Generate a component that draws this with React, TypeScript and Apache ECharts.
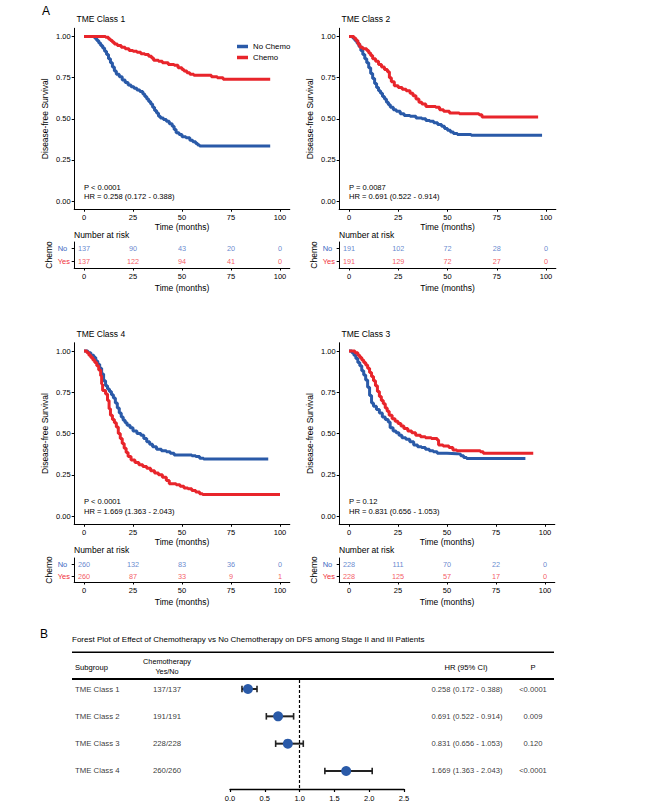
import React, { useEffect, useRef } from 'react';
import * as echarts from 'echarts';

const W = 654;
const H = 809;
const FONT = "'Liberation Sans', Arial, Helvetica, sans-serif";
const TXT = '#000000';
const BLUE = '#2A5AA8';
const RED = '#E8252B';
const RISK_BLUE = '#3C69C2';
const RISK_RED = '#F0303A';

// ---------- KM panel data ----------
const panelTitles = ['TME Class 1', 'TME Class 2', 'TME Class 4', 'TME Class 3'];
const pTexts = ['P < 0.0001', 'P = 0.0087', 'P < 0.0001', 'P = 0.12'];
const hrTexts = [
  'HR = 0.258 (0.172 - 0.388)',
  'HR = 0.691 (0.522 - 0.914)',
  'HR = 1.669 (1.363 - 2.043)',
  'HR = 0.831 (0.656 - 1.053)',
];
const timeTicks = [0, 25, 50, 75, 100];
const survTicks = [0, 0.25, 0.5, 0.75, 1];
const riskGroups = ['Yes', 'No'];

const class1NoChemo = [[0,1],[5.5,0.99],[6.5,0.975],[7.5,0.96],[8.5,0.945],[9.5,0.93],[10.5,0.91],[11.5,0.89],[12.5,0.865],[13.5,0.84],[14.5,0.815],[15.5,0.79],[16.5,0.77],[18,0.755],[19.5,0.735],[21,0.72],[22.5,0.705],[24,0.695],[25.5,0.685],[27,0.675],[28.5,0.665],[30,0.65],[31,0.635],[32,0.62],[33,0.605],[34,0.59],[35,0.57],[36,0.55],[37,0.535],[38,0.515],[39,0.505],[40.5,0.495],[42,0.485],[43.5,0.47],[45,0.455],[46,0.435],[47,0.415],[48.5,0.405],[50,0.39],[52,0.385],[54,0.37],[55.5,0.36],[57,0.35],[58,0.34],[59,0.335],[95,0.335]];
const class1Chemo = [[0,1],[11,0.995],[12.5,0.985],[13.5,0.975],[14.5,0.965],[15.5,0.955],[17,0.945],[19,0.935],[21,0.925],[23,0.915],[25,0.91],[27,0.905],[29,0.895],[31,0.89],[33,0.88],[34.5,0.87],[35.5,0.855],[38,0.85],[40,0.84],[43,0.83],[46,0.825],[48,0.81],[50,0.8],[51,0.79],[52.5,0.78],[54,0.77],[56,0.765],[65,0.755],[68,0.75],[71,0.74],[95,0.74]];
const class2NoChemo = [[0,1],[2,0.99],[3,0.975],[4,0.96],[5,0.94],[6,0.915],[7,0.89],[8,0.865],[9,0.84],[10,0.81],[11,0.775],[12,0.745],[13,0.715],[14,0.69],[15,0.67],[16,0.655],[17,0.635],[18,0.62],[19,0.6],[20,0.585],[21,0.57],[22.5,0.555],[24,0.545],[26,0.53],[28,0.52],[31,0.515],[34,0.505],[37,0.5],[39,0.49],[41,0.485],[43,0.475],[45,0.465],[47,0.455],[48.5,0.44],[50,0.43],[51.5,0.42],[53,0.41],[55,0.405],[62,0.4],[98,0.4]];
const class2Chemo = [[0,1],[2.5,0.99],[3.5,0.975],[4.5,0.955],[5.5,0.935],[7,0.925],[9,0.915],[10,0.9],[11,0.885],[12,0.865],[13.5,0.85],[15,0.83],[16.5,0.815],[18,0.8],[19.5,0.785],[20.5,0.75],[21.5,0.725],[23,0.7],[25,0.69],[27,0.68],[29,0.67],[31,0.655],[32.5,0.64],[34,0.62],[35.5,0.6],[37,0.59],[39,0.575],[44,0.57],[46,0.555],[48,0.545],[51,0.535],[56,0.53],[66,0.525],[67.5,0.51],[96,0.51]];
const class4NoChemo = [[0,1],[2,0.99],[3.5,0.975],[5,0.96],[6,0.94],[7,0.92],[8,0.895],[9,0.86],[10,0.82],[11,0.79],[12,0.77],[13,0.755],[14,0.735],[15,0.715],[16,0.685],[17,0.655],[18,0.625],[19,0.6],[20,0.58],[21,0.565],[22,0.55],[23.5,0.535],[25,0.515],[27,0.5],[29,0.49],[30.5,0.47],[32,0.45],[33.5,0.435],[35,0.42],[37,0.405],[39.5,0.395],[42,0.39],[44,0.38],[46,0.37],[55,0.365],[57,0.36],[59,0.35],[61,0.345],[94,0.345]];
const class4Chemo = [[0,1],[1.5,0.99],[2.5,0.975],[3.5,0.96],[4.5,0.945],[5.5,0.93],[6.5,0.91],[7.5,0.885],[8.5,0.85],[9,0.8],[9.5,0.76],[11,0.74],[12,0.7],[12.8,0.65],[13.5,0.61],[14.5,0.585],[15.5,0.565],[16.5,0.54],[17.5,0.5],[18.5,0.47],[19.5,0.44],[20.5,0.41],[21.5,0.385],[22.5,0.36],[24,0.34],[26,0.325],[28,0.31],[30,0.3],[32,0.29],[34,0.275],[36,0.26],[38,0.25],[40,0.235],[42,0.215],[43.5,0.195],[47,0.19],[49,0.18],[51,0.17],[53,0.165],[55,0.155],[57,0.145],[59,0.135],[60.5,0.13],[100,0.13]];
const class3NoChemo = [[0,1],[1.5,0.99],[2.5,0.975],[3.5,0.955],[4.5,0.93],[5.5,0.91],[6.5,0.88],[7.5,0.855],[8.5,0.825],[9.5,0.78],[10.5,0.73],[11.5,0.685],[12.5,0.665],[14,0.645],[15.5,0.625],[17,0.6],[18.5,0.585],[20,0.57],[21,0.535],[22.5,0.515],[24,0.505],[25.5,0.49],[27,0.475],[29,0.465],[31,0.45],[33,0.43],[35,0.42],[37,0.415],[39,0.405],[41,0.395],[43,0.39],[45,0.38],[50,0.378],[55,0.375],[57,0.365],[58.5,0.355],[60,0.348],[90,0.348]];
const class3Chemo = [[0,1],[3,0.99],[4.5,0.975],[5.5,0.96],[6.5,0.945],[7.5,0.93],[8.5,0.915],[9.5,0.895],[10.5,0.87],[11.5,0.845],[12.5,0.82],[13.5,0.79],[14.5,0.755],[15.5,0.725],[16.5,0.7],[17.5,0.68],[18.5,0.655],[19.5,0.635],[20.5,0.61],[22,0.59],[23.5,0.575],[25,0.56],[26.5,0.545],[28,0.53],[30,0.515],[32,0.505],[34,0.49],[36.5,0.48],[39,0.475],[42,0.47],[45,0.46],[45.7,0.43],[48,0.425],[51,0.415],[53,0.4],[55,0.395],[67,0.39],[68.5,0.38],[94,0.38]];

const class1RiskNo = [137, 90, 43, 20, 0];
const class1RiskYes = [137, 122, 94, 41, 0];
const class2RiskNo = [191, 102, 72, 28, 0];
const class2RiskYes = [191, 129, 72, 27, 0];
const class4RiskNo = [260, 132, 83, 36, 0];
const class4RiskYes = [260, 87, 33, 9, 1];
const class3RiskNo = [228, 111, 70, 22, 0];
const class3RiskYes = [228, 125, 57, 17, 0];

const kmNo = [class1NoChemo, class2NoChemo, class4NoChemo, class3NoChemo];
const kmYes = [class1Chemo, class2Chemo, class4Chemo, class3Chemo];
const riskNo = [class1RiskNo, class2RiskNo, class4RiskNo, class3RiskNo];
const riskYes = [class1RiskYes, class2RiskYes, class4RiskYes, class3RiskYes];

// ---------- Forest data ----------
const forestTitle = 'Forest Plot of Effect of Chemotherapy vs No Chemotherapy on DFS among Stage II and III Patients';
const subgroups = ['TME Class 1', 'TME Class 2', 'TME Class 3', 'TME Class 4'];
const counts = ['137/137', '191/191', '228/228', '260/260'];
const hrValues = [0.258, 0.691, 0.831, 1.669];
const hrLower = [0.172, 0.522, 0.656, 1.363];
const hrUpper = [0.388, 0.914, 1.053, 2.043];
const pValues = ['<0.0001', '0.009', '0.120', '<0.0001'];

// ---------- Layout ----------
const panels = [
  { x0: 84, x100: 280, y1: 36.5, y0: 201, riskTop: 242, riskH: 26, riskGap: 15 },
  { x0: 349, x100: 546, y1: 36.5, y0: 201, riskTop: 242, riskH: 26, riskGap: 15 },
  { x0: 84, x100: 280, y1: 351, y0: 516, riskTop: 558, riskH: 24, riskGap: 15 },
  { x0: 349, x100: 545, y1: 351, y0: 516, riskTop: 558, riskH: 24, riskGap: 15 },
];
const forestRow1 = 689;
const forestStep = 27.33;
const forestTop = 680;
const forestBottom = 789;

function txt(text: string, x: number, y: number, size: number, align = 'left', color = TXT) {
  return {
    type: 'text',
    x,
    y,
    silent: true,
    style: {
      text,
      fill: color,
      fontSize: size,
      fontFamily: FONT,
      textAlign: align,
      align,
      textVerticalAlign: 'middle',
      verticalAlign: 'middle',
    },
  };
}

function hline(x1: number, x2: number, y: number, w: number) {
  return {
    type: 'line',
    silent: true,
    shape: { x1, y1: y, x2, y2: y },
    style: { stroke: '#000', lineWidth: w },
  };
}

function buildOption() {
  const grid: any[] = [];
  const xAxis: any[] = [];
  const yAxis: any[] = [];
  const series: any[] = [];
  const graphic: any[] = [];

  const axisLine = { show: true, onZero: false, lineStyle: { color: '#000', width: 1 } };
  const tickStyle = { color: '#000', width: 1 };
  const nameStyle = { fontSize: 8.5, color: TXT, fontFamily: FONT };

  panels.forEach((p, i) => {
    const u = (p.x100 - p.x0) / 100;
    const left = p.x0 - 5 * u;
    const width = 110 * u;
    const v = p.y0 - p.y1;
    const top = p.y1 - 0.05 * v;
    const height = 1.1 * v;

    // KM grid
    const g = grid.length;
    grid.push({ left, top, width, height });
    xAxis.push({
      gridIndex: g, type: 'value', min: -5, max: 105,
      axisLine, splitLine: { show: false },
      axisTick: { show: true, customValues: timeTicks, length: 2.5, lineStyle: tickStyle },
      axisLabel: { customValues: timeTicks, fontSize: 7.5, color: TXT, margin: 4, fontFamily: FONT },
      name: 'Time (months)', nameLocation: 'middle', nameGap: 12,
      nameTextStyle: nameStyle,
    });
    yAxis.push({
      gridIndex: g, type: 'value', min: -0.05, max: 1.05,
      axisLine, splitLine: { show: false },
      axisTick: { show: true, customValues: survTicks, length: 2.5, lineStyle: tickStyle },
      axisLabel: { customValues: survTicks, fontSize: 7.5, color: TXT, margin: 3.5, fontFamily: FONT, formatter: (val: number) => val.toFixed(2) },
      name: 'Disease-free Survival', nameLocation: 'middle', nameRotate: 90, nameGap: 25,
      nameTextStyle: nameStyle,
    });
    series.push({
      name: 'No Chemo', type: 'line', step: 'end', xAxisIndex: g, yAxisIndex: g,
      data: kmNo[i], showSymbol: false, symbol: 'none',
      lineStyle: { color: BLUE, width: 3 }, itemStyle: { color: BLUE }, z: 3,
    });
    series.push({
      name: 'Chemo', type: 'line', step: 'end', xAxisIndex: g, yAxisIndex: g,
      data: kmYes[i], showSymbol: false, symbol: 'none',
      lineStyle: { color: RED, width: 3 }, itemStyle: { color: RED }, z: 4,
    });

    // Risk table grid
    const r = grid.length;
    grid.push({ left, top: p.riskTop, width, height: p.riskH });
    xAxis.push({
      gridIndex: r, type: 'value', min: -5, max: 105,
      axisLine, splitLine: { show: false },
      axisTick: { show: true, customValues: timeTicks, length: 2.5, lineStyle: tickStyle },
      axisLabel: { customValues: timeTicks, fontSize: 7.5, color: TXT, margin: 4, fontFamily: FONT },
      name: 'Time (months)', nameLocation: 'middle', nameGap: p.riskGap,
      nameTextStyle: nameStyle,
    });
    yAxis.push({
      gridIndex: r, type: 'category', data: riskGroups,
      axisLine, splitLine: { show: false },
      axisTick: { show: true, alignWithLabel: true, length: 2.5, lineStyle: tickStyle },
      axisLabel: {
        fontSize: 7.5, margin: 16.5, align: 'left', fontFamily: FONT,
        color: (val: string) => (val === 'No' ? RISK_BLUE : RISK_RED),
      },
      name: 'Chemo', nameLocation: 'middle', nameRotate: 90, nameGap: 20.5,
      nameTextStyle: nameStyle,
    });
    series.push({
      type: 'scatter', xAxisIndex: r, yAxisIndex: r, symbolSize: 1,
      itemStyle: { color: 'transparent' }, silent: true,
      data: timeTicks.map((t, j) => [t, 'No', riskNo[i][j]]),
      label: { show: true, position: 'inside', formatter: (q: any) => String(q.value[2]), color: RISK_BLUE, fontSize: 7.3, fontFamily: FONT },
    });
    series.push({
      type: 'scatter', xAxisIndex: r, yAxisIndex: r, symbolSize: 1,
      itemStyle: { color: 'transparent' }, silent: true,
      data: timeTicks.map((t, j) => [t, 'Yes', riskYes[i][j]]),
      label: { show: true, position: 'inside', formatter: (q: any) => String(q.value[2]), color: RISK_RED, fontSize: 7.3, fontFamily: FONT },
    });

    graphic.push(txt(panelTitles[i], p.x0 - 7.5, p.y1 - 17.5, 8.5));
    graphic.push(txt(pTexts[i], p.x0, p.y1 + 150.5, 7.6));
    graphic.push(txt(hrTexts[i], p.x0, p.y1 + 160, 7.6));
    graphic.push(txt('Number at risk', p.x0 - 10, p.y0 + 33.5, 8.5));
  });

  // Forest plot
  const yMin = 1 - (forestRow1 - forestTop) / forestStep;
  const yMax = 1 + (forestBottom - forestRow1) / forestStep;
  const f = grid.length;
  grid.push({ left: 230, width: 174, top: forestTop, height: forestBottom - forestTop });
  xAxis.push({
    gridIndex: f, type: 'value', min: 0, max: 2.5, interval: 0.5,
    axisLine: { show: true, onZero: false, lineStyle: { color: '#000', width: 1.3 } },
    splitLine: { show: false },
    axisTick: { show: true, length: 3, lineStyle: { color: '#000', width: 1.2 } },
    axisLabel: { fontSize: 7.5, color: TXT, margin: 5, fontFamily: FONT, formatter: (val: number) => val.toFixed(1) },
  });
  yAxis.push({ gridIndex: f, type: 'value', min: yMin, max: yMax, inverse: true, show: false });
  series.push({
    type: 'custom', xAxisIndex: f, yAxisIndex: f, silent: true,
    data: subgroups.map((_, k) => [hrLower[k], hrUpper[k], k + 1]),
    renderItem: (params: any, api: any) => {
      const row = api.value(2);
      const a = api.coord([api.value(0), row]);
      const b = api.coord([api.value(1), row]);
      const cap = 3.3;
      return {
        type: 'group',
        children: [
          { type: 'line', shape: { x1: a[0], y1: a[1], x2: b[0], y2: b[1] }, style: { stroke: '#222', lineWidth: 2 } },
          { type: 'line', shape: { x1: a[0], y1: a[1] - cap, x2: a[0], y2: a[1] + cap }, style: { stroke: '#222', lineWidth: 1.6 } },
          { type: 'line', shape: { x1: b[0], y1: b[1] - cap, x2: b[0], y2: b[1] + cap }, style: { stroke: '#222', lineWidth: 1.6 } },
        ],
      };
    },
    z: 2,
  });
  series.push({
    type: 'scatter', xAxisIndex: f, yAxisIndex: f, silent: true,
    data: hrValues.map((h, k) => [h, k + 1]),
    symbolSize: 10, itemStyle: { color: BLUE, opacity: 1 }, z: 5,
    markLine: {
      silent: true, symbol: 'none', label: { show: false },
      lineStyle: { type: [3, 2], color: '#000', width: 1.2 },
      data: [{ xAxis: 1 }],
    },
  });

  // Table text grid (hidden axes, same rows)
  const t = grid.length;
  grid.push({ left: 0, width: W, top: forestTop, height: forestBottom - forestTop });
  xAxis.push({ gridIndex: t, type: 'value', min: 0, max: W, show: false });
  yAxis.push({ gridIndex: t, type: 'value', min: yMin, max: yMax, inverse: true, show: false });
  const colSeries = (xPos: number, vals: string[], align: string, size: number) => ({
    type: 'scatter', xAxisIndex: t, yAxisIndex: t, silent: true, symbolSize: 1,
    itemStyle: { color: 'transparent' },
    data: vals.map((s, k) => ({ value: [xPos, k + 1], name: s })),
    label: { show: true, position: 'inside', align, formatter: (q: any) => q.name, color: TXT, fontSize: size, fontFamily: FONT },
  });
  series.push(colSeries(75, subgroups, 'left', 7.8));
  series.push(colSeries(167, counts, 'center', 7.8));
  series.push(colSeries(467, subgroups.map((_, k) => `${hrValues[k].toFixed(3)} (${hrLower[k].toFixed(3)} - ${hrUpper[k].toFixed(3)})`), 'center', 7.6));
  series.push(colSeries(533, pValues, 'center', 7.6));

  graphic.push(txt('A', 42, 11, 12));
  graphic.push(txt('B', 40, 634, 12));
  graphic.push(txt(forestTitle, 72, 639, 8));
  graphic.push(hline(72, 554, 652.3, 1.4));
  graphic.push(hline(72, 554, 679, 2.2));
  graphic.push(txt('Subgroup', 75, 667, 7.6));
  graphic.push(txt('Chemotherapy', 167, 661, 7.3, 'center'));
  graphic.push(txt('Yes/No', 167, 671, 7.3, 'center'));
  graphic.push(txt('HR (95% CI)', 466, 667, 7.6, 'center'));
  graphic.push(txt('P', 533, 667, 7.6, 'center'));

  return {
    animation: false,
    backgroundColor: '#ffffff',
    textStyle: { fontFamily: FONT },
    legend: {
      data: ['No Chemo', 'Chemo'],
      orient: 'vertical', left: 232, top: 37.5,
      icon: 'rect', itemWidth: 11, itemHeight: 3.5, itemGap: 3,
      textStyle: { fontSize: 7.8, color: TXT, fontFamily: FONT },
      selectedMode: false,
    },
    grid, xAxis, yAxis, series, graphic,
  };
}

export default function App() {
  const ref = useRef<HTMLDivElement>(null);
  useEffect(() => {
    if (!ref.current) return;
    const chart = echarts.init(ref.current, undefined, { renderer: 'svg', width: W, height: H });
    chart.setOption(buildOption() as any);
    return () => chart.dispose();
  }, []);
  return <div ref={ref} style={{ position: 'absolute', left: 0, top: 0, width: W, height: H, background: '#fff' }} />;
}
